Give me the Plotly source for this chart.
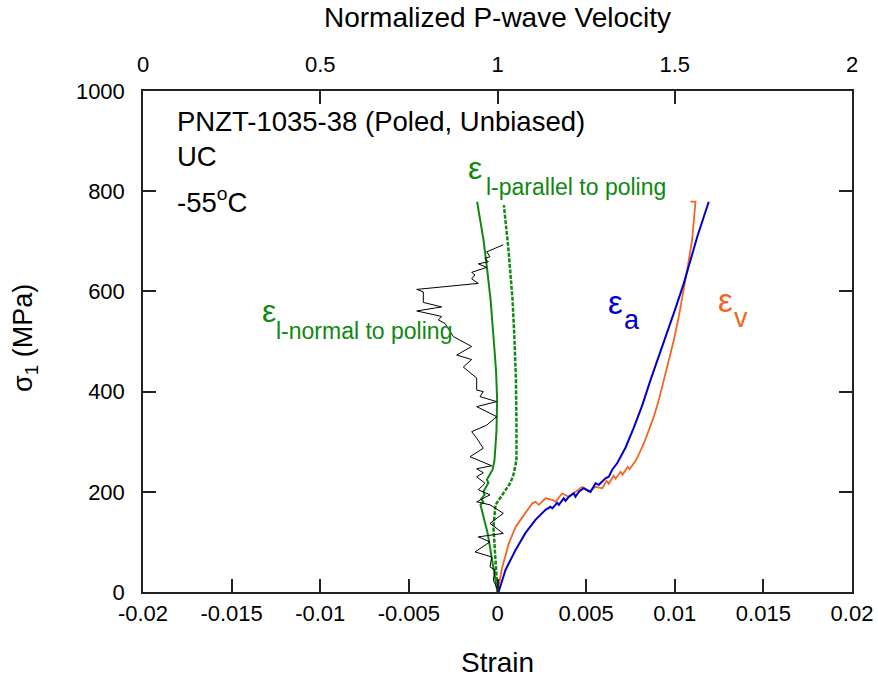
import plotly.graph_objects as go

# ---------------- data ----------------
# Axial strain (blue)
ea_strain = [0.0, 0.00007, 0.00045, 0.00102, 0.00158, 0.00214, 0.00271, 0.00299, 0.00309, 0.00337, 0.00346,
             0.00374, 0.00384, 0.00402, 0.0043, 0.0044, 0.00459, 0.00487, 0.00525, 0.00553, 0.00572,
             0.00609, 0.00628, 0.00647, 0.00675, 0.00722, 0.00769, 0.00816, 0.00863, 0.0091, 0.00957,
             0.01004, 0.01051, 0.01089, 0.01127, 0.01164, 0.01192]
ea_stress = [0, 1, 44, 84, 118, 144, 164, 170, 167, 178, 174,
             187, 182, 190, 197, 190, 200, 207, 200, 217, 214,
             227, 230, 244, 257, 288, 328, 372, 423, 470, 516,
             566, 616, 663, 709, 749, 779]

# Volumetric strain (orange)
ev_strain = [0.0, 0.00027, 0.00064, 0.00102, 0.0013, 0.00158, 0.00196, 0.00214, 0.00233, 0.00271, 0.00309,
             0.00327, 0.00365, 0.00402, 0.0044, 0.00478, 0.00515, 0.00553, 0.00591, 0.00615, 0.00628,
             0.00655, 0.00666, 0.00695, 0.00705, 0.00735, 0.00745, 0.00779, 0.00797, 0.00826, 0.00854,
             0.00882, 0.0091, 0.00938, 0.00967, 0.00995, 0.01023, 0.01049, 0.0107, 0.01098, 0.01106,
             0.01117, 0.01089]
ev_stress = [0, 50, 97, 130, 144, 157, 177, 180, 174, 187, 184,
             180, 197, 190, 200, 210, 200, 210, 207, 222, 216,
             232, 226, 240, 234, 250, 245, 262, 274, 297, 323,
             350, 383, 423, 463, 503, 550, 600, 643, 703, 737,
             779, 779]

# Lateral strain normal to poling (green solid)
eln_strain = [0.0, -0.00023, -0.00056, -0.00096, -0.0008, -0.00092, -0.00073, -0.0008, -0.00051, -0.0006,
              -0.00028, -0.00017, -0.00006, -0.00002, -0.00008, -0.00017, -0.00039, -0.00058, -0.00079, -0.00115]
eln_stress = [0, 50, 118, 174, 180, 186, 194, 200, 218, 224,
              244, 263, 320, 383, 440, 483, 583, 643, 703, 779]

# Lateral strain parallel to poling (green dashed)
elp_strain = [0.0, -0.00011, -0.00023, -0.00011, 0.00028, 0.00073, 0.0009, 0.00107, 0.00107, 0.00104,
              0.00096, 0.00085, 0.00062, 0.00036]
elp_stress = [0, 58, 130, 174, 194, 218, 234, 263, 340, 423,
              503, 583, 683, 772]

# Normalized P-wave velocity (black, top axis)
vp_norm = [1.0023, 0.9882, 0.993, 0.9789, 0.9837, 0.9365, 0.9789, 0.9459, 1.0164, 0.9789,
           1.0164, 0.9789, 0.9413, 0.9789, 0.9459, 0.9647, 0.9413, 0.96, 0.9413, 0.9837,
           0.9224, 0.96, 0.9413, 0.9272, 0.9695, 0.9977, 0.9413, 0.9977, 0.9506, 0.96,
           0.9413, 0.9413, 0.9035, 0.9272, 0.8849, 0.9272, 0.8753, 0.8519, 0.833, 0.8426,
           0.7721, 0.8426, 0.7907, 0.7907, 0.7721, 0.9459, 0.9272, 0.9365, 0.9272, 0.9695,
           0.9459, 0.974, 0.9647, 0.9789, 0.9695, 1.0164]
vp_stress = [1, 24, 44, 50, 70, 80, 100, 110, 117, 137,
             157, 174, 180, 194, 204, 217, 230, 238, 246, 252,
             270, 287, 307, 320, 333, 350, 370, 380, 390, 400,
             403, 427, 449, 464, 473, 490, 510, 536, 543, 550,
             561, 569, 578, 599, 604, 616, 625, 633, 638, 648,
             655, 659, 666, 669, 679, 693]

x_ticks = [-0.02, -0.015, -0.01, -0.005, 0, 0.005, 0.01, 0.015, 0.02]
x_ticklabels = ["-0.02", "-0.015", "-0.01", "-0.005", "0", "0.005", "0.01", "0.015", "0.02"]
x2_ticks = [0, 0.5, 1, 1.5, 2]
x2_ticklabels = ["0", "0.5", "1", "1.5", "2"]
y_ticks = [0, 200, 400, 600, 800, 1000]

FONT = "Liberation Sans, Arial, sans-serif"
GREEN = "#118811"
BLUE = "#0000cc"
ORANGE = "#f26522"

fig = go.Figure()
fig.add_trace(go.Scatter(x=vp_norm, y=vp_stress, xaxis="x2", yaxis="y", mode="lines",
                         line=dict(color="black", width=1), showlegend=False))
fig.add_trace(go.Scatter(x=eln_strain, y=eln_stress, mode="lines",
                         line=dict(color=GREEN, width=2), showlegend=False))
fig.add_trace(go.Scatter(x=elp_strain, y=elp_stress, mode="lines",
                         line=dict(color=GREEN, width=2.5, dash="4px,1.5px"), showlegend=False))
fig.add_trace(go.Scatter(x=ev_strain, y=ev_stress, mode="lines",
                         line=dict(color=ORANGE, width=1.8), showlegend=False))
fig.add_trace(go.Scatter(x=ea_strain, y=ea_stress, mode="lines",
                         line=dict(color=BLUE, width=2), showlegend=False))

axis_common = dict(showgrid=False, zeroline=False, showline=True, linecolor="#222", linewidth=1.5,
                   ticks="inside", ticklen=13, tickcolor="#222", tickwidth=1.5, automargin=False,
                   tickfont=dict(family=FONT, size=22, color="black"))

fig.update_layout(
    width=878, height=678,
    margin=dict(l=143, r=26, t=91, b=86, autoexpand=False),
    paper_bgcolor="white", plot_bgcolor="white",
    xaxis=dict(range=[-0.02, 0.02], tickvals=x_ticks, ticktext=x_ticklabels,
               ticklabelstandoff=1, **axis_common),
    xaxis2=dict(range=[0, 2], tickvals=x2_ticks, ticktext=x2_ticklabels, overlaying="x", side="top",
                anchor="y", ticklabelstandoff=8, **axis_common),
    yaxis=dict(range=[0, 1000], tickvals=y_ticks, mirror="ticks", ticklabelstandoff=12, **axis_common),
)

def px(xp):
    return (xp - 143) / 709.0

def py(yp):
    return (592 - yp) / 501.0

def ann(text, x, y, size, color="black", xanchor="left", yanchor="middle", angle=0):
    fig.add_annotation(text=text, x=px(x), y=py(y), xref="paper", yref="paper",
                       xanchor=xanchor, yanchor=yanchor, showarrow=False, textangle=angle,
                       font=dict(family=FONT, size=size, color=color))

# axis titles
ann("Normalized P-wave Velocity", 497, 18, 28, xanchor="center")
ann("Strain", 497, 662, 28, xanchor="center")
ann("σ<sub>1</sub> (MPa)", 25, 338, 27, xanchor="center", angle=-90)

# header texts
ann("PNZT-1035-38 (Poled, Unbiased)", 175, 122, 27.5)
ann("UC", 175, 156, 27.5)
ann("-55<sup>o</sup>C", 175, 200, 27.5)

# curve labels
ann("ε", 466, 168, 32, GREEN)
ann("l-parallel to poling", 484, 187, 23, GREEN)
ann("ε", 260, 311, 32, GREEN)
ann("l-normal to poling", 274, 331, 23, GREEN)
ann("ε", 606, 302, 33, BLUE)
ann("a", 622, 320, 27, BLUE)
ann("ε", 716, 300, 33, ORANGE)
ann("v", 732, 318, 27, ORANGE)

fig.write_html("out.html")
